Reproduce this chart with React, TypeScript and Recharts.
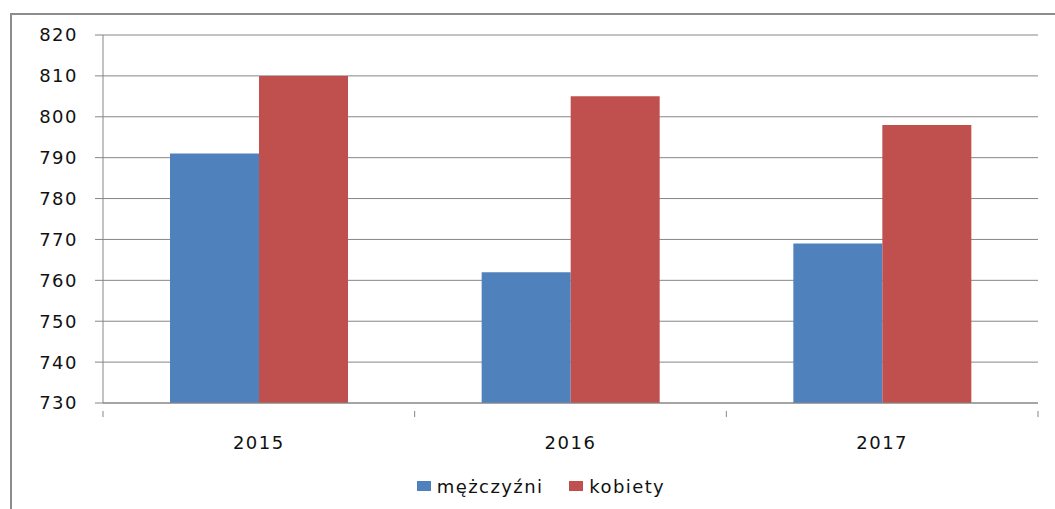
import { Bar, BarChart, CartesianGrid, Legend, XAxis, YAxis } from "recharts";

const years = ["2015", "2016", "2017"];
const men = [791, 762, 769];
const women = [810, 805, 798];
const yTicks = [730, 740, 750, 760, 770, 780, 790, 800, 810, 820];

const seriesNames = { men: "mężczyźni", women: "kobiety" };
const colors = { men: "#4F81BD", women: "#C0504D" };

const W = 1055;
const H = 509;
const PLOT_LEFT = 103;
const PLOT_RIGHT = 1038;
const BAND = (PLOT_RIGHT - PLOT_LEFT) / years.length;
const AXIS_GRAY = "#868686";
const TEXT = "#111";
const FONT = "'DejaVu Sans', Verdana, sans-serif";

const data = years.map((year, i) => ({ year, men: men[i], women: women[i] }));

function YearTick(props: any) {
  const { x, y, payload, index } = props;
  const left = x - BAND / 2;
  const right = x + BAND / 2;
  return (
    <g>
      <line x1={left} y1={y} x2={left} y2={y + 6} stroke={AXIS_GRAY} />
      {index === years.length - 1 && (
        <line x1={right} y1={y} x2={right} y2={y + 6} stroke={AXIS_GRAY} />
      )}
      <text
        x={x}
        y={y + 25}
        dy="0.71em"
        textAnchor="middle"
        fill={TEXT}
        fontSize={18}
        fontFamily={FONT}
        letterSpacing={1.5}
      >
        {payload.value}
      </text>
    </g>
  );
}

function LegendBox() {
  const items = [
    { key: "men", label: seriesNames.men, color: colors.men },
    { key: "women", label: seriesNames.women, color: colors.women },
  ];
  return (
    <div
      style={{
        display: "flex",
        justifyContent: "center",
        alignItems: "center",
        gap: 26,
        height: 20,
        fontFamily: FONT,
        fontSize: 18,
        color: TEXT,
        letterSpacing: 1.4,
        paddingLeft: 44,
      }}
    >
      {items.map((item) => (
        <span key={item.key} style={{ display: "flex", alignItems: "center" }}>
          <span
            style={{
              display: "inline-block",
              width: 14,
              height: 10,
              background: item.color,
              marginRight: 6,
            }}
          />
          {item.label}
        </span>
      ))}
    </div>
  );
}

export default function App() {
  return (
    <div
      style={{
        position: "fixed",
        left: 0,
        top: 0,
        width: W,
        height: H,
        overflow: "hidden",
        background: "#fff",
      }}
    >
      <div
        style={{
          position: "absolute",
          left: 10,
          top: 13,
          width: 1200,
          height: 800,
          border: "2px solid #8c8c8c",
        }}
      />
      <div style={{ position: "absolute", left: 0, top: 0 }}>
        <BarChart
          width={W}
          height={H}
          data={data}
          margin={{ top: 35, right: W - PLOT_RIGHT, bottom: 13, left: 0 }}
          barCategoryGap="21.5%"
          barGap={0}
        >
          <CartesianGrid vertical={false} stroke={AXIS_GRAY} />
          <XAxis
            dataKey="year"
            height={73}
            stroke={AXIS_GRAY}
            tickLine={false}
            tick={<YearTick />}
            interval={0}
          />
          <YAxis
            width={PLOT_LEFT}
            domain={[730, 820]}
            ticks={yTicks}
            interval={0}
            stroke={AXIS_GRAY}
            tickSize={8}
            tickMargin={17}
            tick={{ fill: TEXT, fontSize: 18, fontFamily: FONT, letterSpacing: 1.5 }}
          />
          <Legend verticalAlign="bottom" content={<LegendBox />} />
          <Bar
            dataKey="men"
            name={seriesNames.men}
            fill={colors.men}
            isAnimationActive={false}
          />
          <Bar
            dataKey="women"
            name={seriesNames.women}
            fill={colors.women}
            isAnimationActive={false}
          />
        </BarChart>
      </div>
    </div>
  );
}
